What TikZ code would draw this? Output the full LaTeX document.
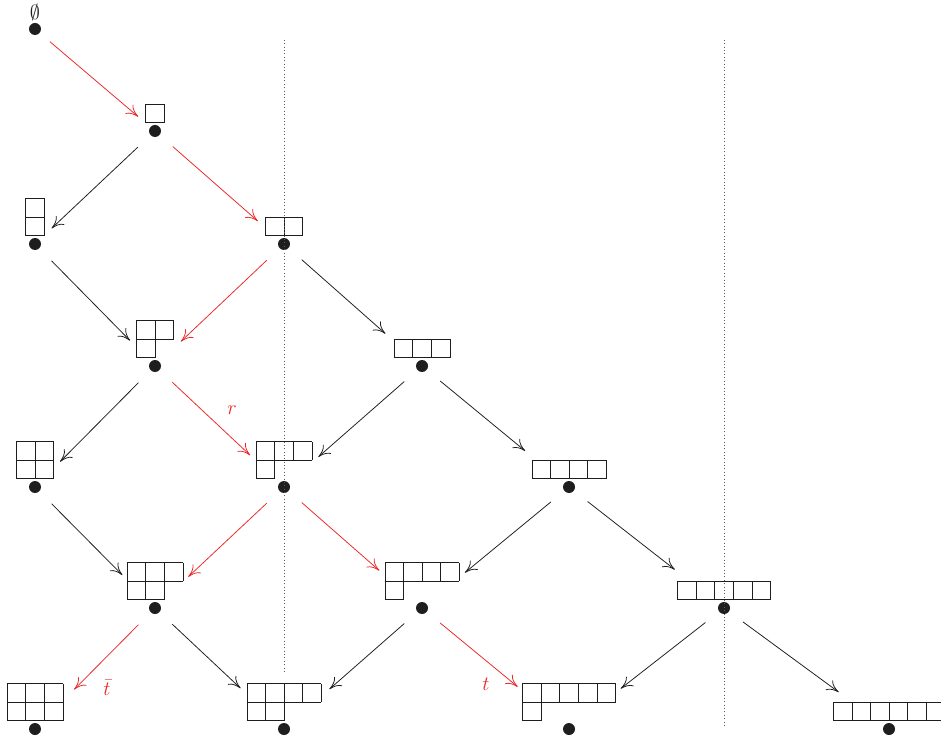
\documentclass[tikz,border=0pt]{standalone}
\usepackage{xcolor}
\usepackage{tikz}
\usetikzlibrary{positioning, arrows.meta}
\usepackage{amsmath}
\usepackage{ytableau}
\ytableausetup{boxsize=0.45cm}
\definecolor{YGInk}{RGB}{30,30,30}
\definecolor{YGRed}{RGB}{235,40,40}
\definecolor{YGGray}{RGB}{90,90,90}

\begin{document}
\begin{tikzpicture}[
          dot/.style={circle, fill=YGInk, inner sep=0pt, outer sep=0pt,
                      minimum size=0.3cm},
          yd/.style={inner sep=0pt, outer sep=0pt, text=YGInk},
          arr/.style={draw=YGInk, line width=0.55pt,
                      -{To[length=3mm, width=3mm]}, shorten <=0.44cm},
          hot/.style={arr, draw=YGRed},
          lbl/.style={font=\Large, text=YGRed},
          guide/.style={YGGray, dotted}
        ]
        \useasboundingbox (0,0) rectangle (23.525,18.55);

        % Vertices
        \node[dot] (v0)  at (0.875, 17.825) {};
        \node[dot] (v1)  at (3.875, 15.275) {};
        \node[dot] (v11) at (0.875, 12.45) {};
        \node[dot] (v2)  at (7.1,   12.45) {};
        \node[dot] (v21) at (3.875,  9.4) {};
        \node[dot] (v3)  at (10.55,  9.4) {};
        \node[dot] (v22) at (0.875,  6.375) {};
        \node[dot] (v31) at (7.1,    6.375) {};
        \node[dot] (v4)  at (14.225, 6.375) {};
        \node[dot] (v32) at (3.875,  3.35) {};
        \node[dot] (v41) at (10.55,  3.35) {};
        \node[dot] (v5)  at (18.1,   3.35) {};
        \node[dot] (v33) at (0.875,  0.325) {};
        \node[dot] (v42) at (7.1,    0.325) {};
        \node[dot] (v51) at (14.225, 0.325) {};
        \node[dot] (v6)  at (22.225, 0.325) {};

        % Young diagrams
        \node[yd, font=\Large, above=0.05cm of v0] (d0) {$\emptyset$};
        \node[yd, above=0.05cm of v1]  (d1)  {$\ydiagram{1}$};
        \node[yd, above=0.05cm of v11] (d11) {$\ydiagram{1,1}$};
        \node[yd, above=0.05cm of v2]  (d2)  {$\ydiagram{2}$};
        \node[yd, above=0.05cm of v21] (d21) {$\ydiagram{2,1}$};
        \node[yd, above=0.05cm of v3]  (d3)  {$\ydiagram{3}$};
        \node[yd, above=0.05cm of v22] (d22) {$\ydiagram{2,2}$};
        \node[yd, above=0.05cm of v31] (d31) {$\ydiagram{3,1}$};
        \node[yd, above=0.05cm of v4]  (d4)  {$\ydiagram{4}$};
        \node[yd, above=0.05cm of v32] (d32) {$\ydiagram{3,2}$};
        \node[yd, above=0.05cm of v41] (d41) {$\ydiagram{4,1}$};
        \node[yd, above=0.05cm of v5]  (d5)  {$\ydiagram{5}$};
        \node[yd, above=0.05cm of v33] (d33) {$\ydiagram{3,3}$};
        \node[yd, above=0.05cm of v42] (d42) {$\ydiagram{4,2}$};
        \node[yd, above=0.05cm of v51] (d51) {$\ydiagram{5,1}$};
        \node[yd, above=0.05cm of v6]  (d6)  {$\ydiagram{6}$};

        % Guide lines
        \coordinate (g1a) at (7.1, 17.55);
        \coordinate (g1b) at (7.1, 1.7);
        \coordinate (g2a) at (18.1, 17.55);
        \coordinate (g2b) at (18.1, 0.4);
        \draw[guide] (g1a) -- (g1b);
        \draw[guide] (g2a) -- (g2b);

        % Edges
        \draw[hot, shorten <=0.34cm, shorten >=0.4cm] (v0) -- (v1);
        \draw[arr, shorten >=0.42cm] (v1) -- (v11);
        \draw[hot, shorten >=0.72cm] (v1) -- (v2);
        \draw[arr, shorten >=0.74cm] (v11) -- (v21);
        \draw[hot, shorten >=0.74cm] (v2) -- (v21);
        \draw[arr, shorten >=1.07cm] (v2) -- (v3);
        \draw[arr, shorten >=0.74cm] (v21) -- (v22);
        \draw[hot, shorten >=1.01cm] (v21) -- (v31);
        \draw[arr, shorten >=0.99cm] (v3) -- (v31);
        \draw[arr, shorten >=1.27cm] (v3) -- (v4);
        \draw[arr, shorten >=1.01cm] (v22) -- (v32);
        \draw[hot, shorten >=0.99cm] (v31) -- (v32);
        \draw[hot, shorten >=1.27cm] (v31) -- (v41);
        \draw[arr, shorten >=1.24cm] (v4) -- (v41);
        \draw[arr, shorten >=1.41cm] (v4) -- (v5);
        \draw[hot, shorten >=1.24cm] (v32) -- (v33);
        \draw[arr, shorten >=1.34cm] (v32) -- (v42);
        \draw[arr, shorten >=1.36cm] (v41) -- (v42);
        \draw[hot, shorten >=1.51cm] (v41) -- (v51);
        \draw[arr, shorten >=1.49cm] (v5) -- (v51);
        \draw[arr, shorten >=1.41cm] (v5) -- (v6);

        % Edge labels
        \node[lbl] (lr)  at (5.8,   8.3)  {$r$};
        \node[lbl] (ltb) at (2.675, 1.35) {$\bar{t}$};
        \node[lbl] (lt)  at (12.15, 1.45) {$t$};
      \end{tikzpicture}
\end{document}
